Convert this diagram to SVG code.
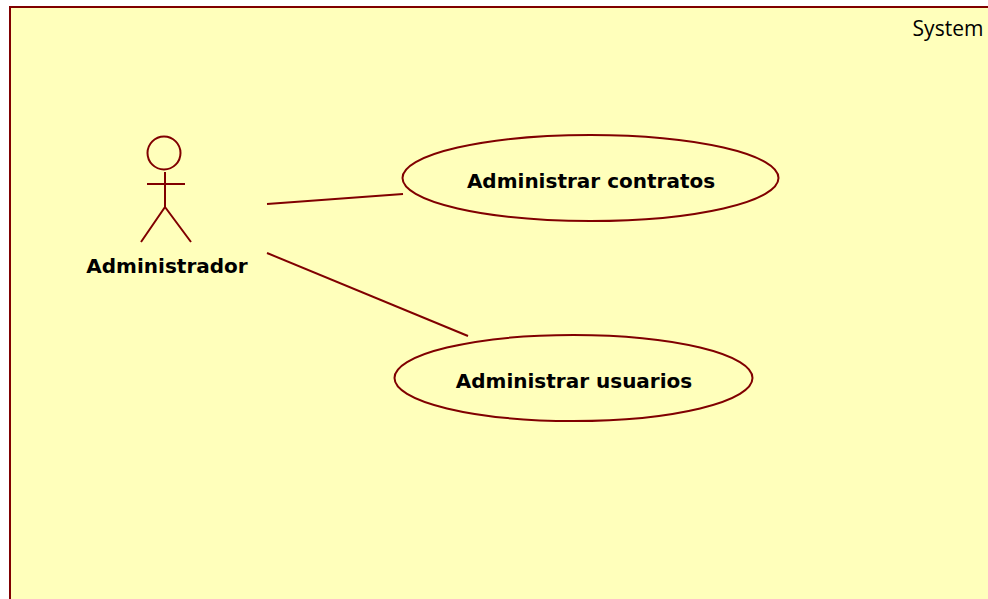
<svg xmlns="http://www.w3.org/2000/svg" width="988" height="599" viewBox="0 0 988 599">
<style>
.s{fill:none;stroke:#800000;stroke-width:2}
.u{fill:#ffffbb;stroke:#800000;stroke-width:2}
.t{font-family:"DejaVu Sans",Verdana,sans-serif;font-size:20px;font-weight:bold;fill:#000;text-anchor:middle}
</style>
<rect width="988" height="599" fill="#fff"/>
<g id="system"><rect class="u" x="10" y="7" width="985" height="600"/>
<text x="948" y="36" font-family="'Open Sans','DejaVu Sans',sans-serif" font-size="21" fill="#000" text-anchor="middle">System</text></g>
<g id="connectors">
<line class="s" x1="267" y1="204" x2="403" y2="194"/>
<line class="s" x1="267" y1="253" x2="468" y2="336"/>
</g>
<g id="actor-administrador">
<circle class="s" cx="164" cy="153" r="16.500"/>
<path class="s" d="M165 172V207M147 184H185M165 207L141 242M165 207L191 242"/>
<text class="t" x="167" y="273">Administrador</text></g>
<g id="uc-contratos"><ellipse class="u" cx="590.500" cy="178" rx="188" ry="43"/>
<text class="t" x="591" y="188">Administrar contratos</text></g>
<g id="uc-usuarios"><ellipse class="u" cx="573.500" cy="378" rx="179" ry="43"/>
<text class="t" x="574" y="388">Administrar usuarios</text></g>
</svg>
